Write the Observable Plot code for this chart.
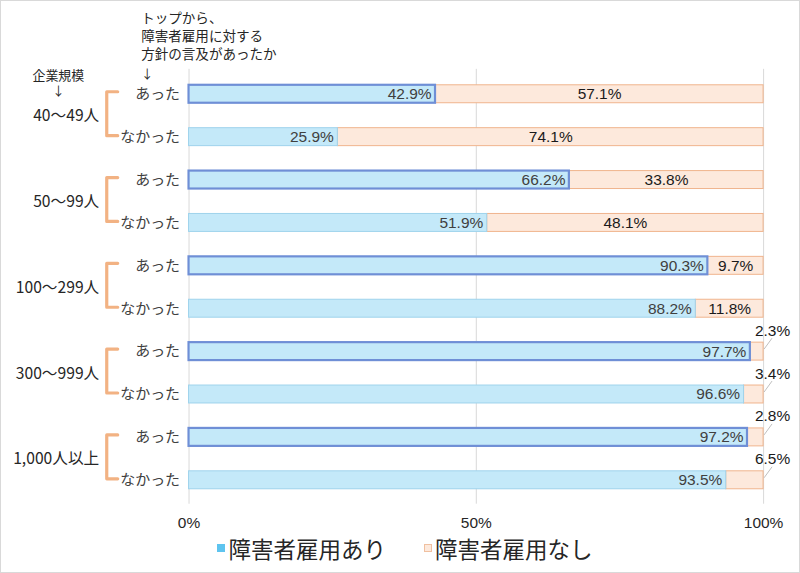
<!DOCTYPE html>
<html>
<head>
<meta charset="utf-8">
<script src="https://cdn.jsdelivr.net/npm/d3@7"></script>
<script src="https://cdn.jsdelivr.net/npm/@observablehq/plot@0.6"></script>
<style>
  html, body { margin: 0; padding: 0; background: #fff; }
  #wrap { width: 800px; height: 573px; box-sizing: border-box; border: 1px solid #d9d9d9; position: relative; overflow: hidden; }
  #legend { height: 30px; line-height: 30px; display: flex; justify-content: center; align-items: center; gap: 38px;
    font-family: "Noto Sans CJK JP", sans-serif; font-size: 22.5px; color: #262626; margin-left: 10px; }
  .item { display: flex; align-items: center; gap: 3px; }
  .sw { width: 8px; height: 8px; display: inline-block; box-sizing: border-box; }
</style>
</head>
<body>
<div id="wrap"><div id="chart"></div><div id="legend"></div></div>
<script>
// ---- data ----
const groups = ["40～49人", "50～99人", "100～299人", "300～999人", "1,000人以上"];
const answers = ["あった", "なかった"];
const ariValues = [42.9, 25.9, 66.2, 51.9, 90.3, 88.2, 97.7, 96.6, 97.2, 93.5];
const nashiValues = [57.1, 74.1, 33.8, 48.1, 9.7, 11.8, 2.3, 3.4, 2.8, 6.5];
const xTicks = [0, 50, 100];
const seriesNames = ["障害者雇用あり", "障害者雇用なし"];
const headerQuestion = "トップから、\n障害者雇用に対する\n方針の言及があったか";
const headerGroup = "企業規模";
const arrow = "↓";

// ---- build rows ----
const rows = [];
groups.forEach((g, gi) => answers.forEach((a, ai) => {
  const i = gi * 2 + ai;
  rows.push({id: g + "|" + a, group: g, answer: a, ari: ariValues[i], nashi: nashiValues[i]});
}));
const ids = rows.map(d => d.id);

const blueFill = "#c4e9f9", blueStrokeA = "#6f8fd6", blueStrokeB = "#9fd3ec";
const orangeFill = "#fde9dc", orangeStroke = "#f0b48d";
const bracketColor = "#f2b283";
const jp = "Noto Sans CJK JP";
const latin = "Liberation Sans";

const decor = (index, scales, values, dimensions) => {
  const y = scales.y, x = scales.x;
  const bw = y.bandwidth ? y.bandwidth() : 0;
  const yc = id => y(id) + bw / 2;
  const g = d3.create("svg:g");
  groups.forEach(gr => {
    const y1 = yc(gr + "|あった") - 2, y2 = yc(gr + "|なかった") - 1;
    const xl = 106, xr = 117;
    g.append("path")
      .attr("d", `M${xr},${y1}H${xl}V${y2}H${xr}`)
      .attr("fill", "none").attr("stroke", bracketColor)
      .attr("stroke-width", 3.2).attr("stroke-linecap", "round").attr("stroke-linejoin", "round");
  });
  rows.filter(d => d.nashi < 9).forEach(d => {
    const x0 = x(100);
    g.append("line")
      .attr("x1", x0 + 1).attr("y1", yc(d.id) - 2)
      .attr("x2", x0 + 9).attr("y2", yc(d.id) - 13)
      .attr("stroke", "#bfbfbf").attr("stroke-width", 1);
  });
  return g.node();
};

const chart = Plot.plot({
  width: 800,
  height: 533,
  marginLeft: 188,
  marginRight: 36,
  marginTop: 68,
  marginBottom: 29,
  style: {fontFamily: latin, fontSize: "15px", color: "#404040", overflow: "visible"},
  x: {domain: [0, 100], ticks: xTicks, tickFormat: d => d + "%"},
  y: {domain: ids, paddingInner: 0.59, paddingOuter: 0.295},
  marks: [
    Plot.gridX(xTicks, {stroke: "#d9d9d9", strokeOpacity: 1}),
    Plot.axisX(xTicks, {tickSize: 0, tickPadding: 13, tickFormat: d => d + "%", fontSize: 15.5, fill: "#262626", label: null}),
    Plot.axisY({tickSize: 0, tickPadding: 9, tickFormat: d => d.split("|")[1], fontFamily: jp, fontSize: 15, fill: "#404040", label: null}),
    // orange segment
    Plot.barX(rows, {y: "id", x1: "ari", x2: 100, fill: orangeFill, stroke: orangeStroke, strokeWidth: 1, inset: 0}),
    // blue segment
    Plot.barX(rows.filter(d => d.answer === "なかった"), {y: "id", x1: 0, x2: "ari", fill: blueFill, stroke: blueStrokeB, strokeWidth: 1, inset: 0}),
    Plot.barX(rows.filter(d => d.answer === "あった"), {y: "id", x1: 0, x2: "ari", fill: blueFill, stroke: blueStrokeA, strokeWidth: 2.2, inset: 0}),
    // labels
    Plot.text(rows, {y: "id", x: "ari", text: d => d.ari.toFixed(1) + "%", textAnchor: "end", dx: -4, fill: "#404040", fontSize: 15.5, fontFamily: latin}),
    Plot.text(rows.filter(d => d.nashi >= 9), {y: "id", x: d => (d.ari + 100) / 2, text: d => d.nashi.toFixed(1) + "%", fill: "#1a1a1a", fontSize: 15.5, fontFamily: latin}),
    Plot.text(rows.filter(d => d.nashi < 9), {y: "id", x: 100, text: d => d.nashi.toFixed(1) + "%", dx: 9, dy: -21, fill: "#1a1a1a", fontSize: 15.5, fontFamily: latin}),
    // group labels
    Plot.text(groups, {y: d => d + "|あった", text: d => d, frameAnchor: "left", dx: -90, dy: 22, textAnchor: "end", fontFamily: jp, fontSize: 15.7, fill: "#262626"}),
    // headers
    Plot.text([headerQuestion], {frameAnchor: "top-left", dx: -48, dy: -60, lineAnchor: "top", lineHeight: 1.36, textAnchor: "start", fontFamily: jp, fontSize: 13.6, fill: "#262626"}),
    Plot.text([arrow], {frameAnchor: "top-left", dx: -42, dy: 1, textAnchor: "middle", fontFamily: jp, fontSize: 12.5, fill: "#262626"}),
    Plot.text([headerGroup], {frameAnchor: "top-left", dx: -131, dy: 1, textAnchor: "middle", fontFamily: jp, fontSize: 13, fill: "#262626"}),
    Plot.text([arrow], {frameAnchor: "top-left", dx: -131, dy: 18, textAnchor: "middle", fontFamily: jp, fontSize: 12.5, fill: "#262626"}),
    decor
  ]
});
document.getElementById("chart").appendChild(chart);

// legend
const legend = document.getElementById("legend");
const swatches = [{fill: "#5ec4ef", stroke: "#5ec4ef"}, {fill: orangeFill, stroke: "#f0c0a0"}];
seriesNames.forEach((name, i) => {
  const it = document.createElement("span");
  it.className = "item";
  const sw = document.createElement("span");
  sw.className = "sw";
  sw.style.background = swatches[i].fill;
  sw.style.border = "1px solid " + swatches[i].stroke;
  it.appendChild(sw);
  const t = document.createElement("span");
  t.textContent = name;
  it.appendChild(t);
  legend.appendChild(it);
});
</script>
</body>
</html>
